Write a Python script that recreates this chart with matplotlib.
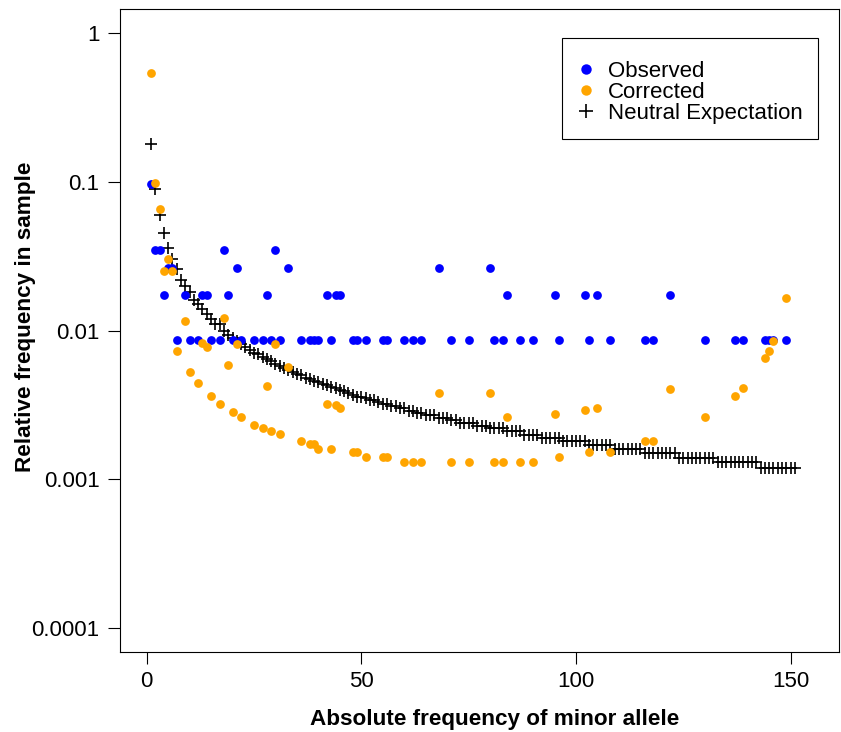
import numpy as np
import matplotlib
matplotlib.use("Agg")
import matplotlib.pyplot as plt
from matplotlib.lines import Line2D

plt.rcParams['font.family'] = ['Liberation Sans', 'DejaVu Sans']

# allele counts that were seen in the sample
sites = [1, 2, 3, 4, 5, 6, 7, 9, 10, 12, 13, 14, 15, 17, 18, 19, 20, 21, 22, 25,
         27, 28, 29, 30, 31, 33, 36, 38, 39, 40, 42, 43, 44, 45, 48, 49, 51, 55,
         56, 60, 62, 64, 68, 71, 75, 80, 81, 83, 84, 87, 90, 95, 96, 102, 103,
         105, 108, 116, 118, 122, 130, 137, 139, 144, 145, 146, 149]

observed = [0.0957, 0.0348, 0.0348, 0.0174, 0.0261, 0.0261, 0.0087, 0.0174, 0.0087,
            0.0087, 0.0174, 0.0174, 0.0087, 0.0087, 0.0348, 0.0174, 0.0087, 0.0261,
            0.0087, 0.0087, 0.0087, 0.0174, 0.0087, 0.0348, 0.0087, 0.0261, 0.0087,
            0.0087, 0.0087, 0.0087, 0.0174, 0.0087, 0.0174, 0.0174, 0.0087, 0.0087,
            0.0087, 0.0087, 0.0087, 0.0087, 0.0087, 0.0087, 0.0261, 0.0087, 0.0087,
            0.0261, 0.0087, 0.0087, 0.0174, 0.0087, 0.0087, 0.0174, 0.0087, 0.0174,
            0.0087, 0.0174, 0.0087, 0.0087, 0.0087, 0.0174, 0.0087, 0.0087, 0.0087,
            0.0087, 0.0087, 0.0087, 0.0087]

corrected = [0.54, 0.098, 0.065, 0.025, 0.030, 0.025, 0.0073, 0.0115, 0.00525,
             0.00443, 0.0082, 0.0077, 0.00362, 0.00322, 0.0122, 0.00585, 0.00283,
             0.0081, 0.00263, 0.00233, 0.00222, 0.00425, 0.00212, 0.0081, 0.00201,
             0.0057, 0.00182, 0.00172, 0.00172, 0.00161, 0.00322, 0.00161, 0.00314,
             0.00303, 0.00152, 0.00152, 0.00142, 0.00142, 0.00142, 0.00131, 0.00131,
             0.00131, 0.00383, 0.00131, 0.00131, 0.00383, 0.00131, 0.00131, 0.00262,
             0.00131, 0.00131, 0.00273, 0.00142, 0.00294, 0.00152, 0.00303, 0.00152,
             0.00182, 0.00182, 0.00404, 0.00263, 0.00365, 0.00414, 0.00649, 0.00726,
             0.0085, 0.0166]

# neutral expectation for counts 1..151
neutral = [0.18, 0.089, 0.06, 0.045, 0.036, 0.03, 0.026, 0.022, 0.02, 0.018,
           0.016, 0.015, 0.014, 0.013, 0.012, 0.011, 0.011, 0.0099, 0.0094, 0.0089,
           0.0085, 0.0081, 0.0078, 0.0074, 0.0071, 0.0069, 0.0066, 0.0064, 0.0062, 0.006,
           0.0058, 0.0056, 0.0054, 0.0053, 0.0051, 0.005, 0.0048, 0.0047, 0.0046, 0.0045,
           0.0044, 0.0043, 0.0042, 0.0041, 0.004, 0.0039, 0.0038, 0.0037, 0.0036, 0.0036,
           0.0035, 0.0034, 0.0034, 0.0033, 0.0032, 0.0032, 0.0031, 0.0031, 0.003, 0.003,
           0.0029, 0.0029, 0.0028, 0.0028, 0.0027, 0.0027, 0.0027, 0.0026, 0.0026, 0.0026,
           0.0025, 0.0025, 0.0024, 0.0024, 0.0024, 0.0024, 0.0023, 0.0023, 0.0023, 0.0022,
           0.0022, 0.0022, 0.0022, 0.0021, 0.0021, 0.0021, 0.0021, 0.002, 0.002, 0.002,
           0.002, 0.0019, 0.0019, 0.0019, 0.0019, 0.0019, 0.0018, 0.0018, 0.0018, 0.0018,
           0.0018, 0.0018, 0.0017, 0.0017, 0.0017, 0.0017, 0.0017, 0.0017, 0.0016, 0.0016,
           0.0016, 0.0016, 0.0016, 0.0016, 0.0016, 0.0015, 0.0015, 0.0015, 0.0015, 0.0015,
           0.0015, 0.0015, 0.0015, 0.0014, 0.0014, 0.0014, 0.0014, 0.0014, 0.0014, 0.0014,
           0.0014, 0.0014, 0.0013, 0.0013, 0.0013, 0.0013, 0.0013, 0.0013, 0.0013, 0.0013,
           0.0013, 0.0013, 0.0012, 0.0012, 0.0012, 0.0012, 0.0012, 0.0012, 0.0012, 0.0012,
           0.0012]
neutral_x = np.arange(1, len(neutral) + 1)

yticks = [1, 0.1, 0.01, 0.001, 0.0001]
ytick_labels = ["1", "0.1", "0.01", "0.001", "0.0001"]
xticks = [0, 50, 100, 150]

fs = 16

fig = plt.figure(figsize=(8.41, 7.32), dpi=100)
ax = fig.add_axes([0.1430, 0.1097, 0.8543, 0.8784])

ax.plot(neutral_x, neutral, ls='none', marker='+', color='black', ms=8, mew=1.2)
ax.plot(sites, observed, ls='none', marker='o', color='#0000FF', ms=6.3, mew=0)
ax.plot(sites, corrected, ls='none', marker='o', color='#FFA500', ms=6.3, mew=0)

ax.set_yscale('log')
ax.set_xlim(-6.15, 161.2)
ax.set_ylim(10 ** -4.157, 10 ** 0.161)
ax.set_yticks(yticks)
ax.set_yticklabels(ytick_labels)
ax.yaxis.set_minor_locator(matplotlib.ticker.NullLocator())
ax.set_xticks(xticks)

for s in ax.spines.values():
    s.set_linewidth(0.8)
ax.tick_params(axis='both', direction='out', length=8.7, width=0.8, labelsize=fs)
ax.tick_params(axis='y', pad=6.3)
ax.tick_params(axis='x', pad=5)

ax.set_xlabel("Absolute frequency of minor allele", fontsize=16.2, fontweight='bold')
ax.set_ylabel("Relative frequency in sample", fontsize=16.2, fontweight='bold')
ax.xaxis.set_label_coords(0.521, -0.089)
ax.yaxis.set_label_coords(-0.117, 0.521)

handles = [
    Line2D([], [], ls='none', marker='o', color='#0000FF', ms=7.5, mew=0),
    Line2D([], [], ls='none', marker='o', color='#FFA500', ms=7.5, mew=0),
    Line2D([], [], ls='none', marker='+', color='black', ms=9.5, mew=1.2),
]
# small blank title just pushes the rows down a little inside the box
leg = ax.legend(handles, ["Observed", "Corrected", "Neutral Expectation"],
                loc='upper right', bbox_to_anchor=(0.9708, 0.954), borderaxespad=0,
                fontsize=fs, labelspacing=0.0, handlelength=0.74,
                handletextpad=0.62, borderpad=0.69, fancybox=False,
                edgecolor='black', framealpha=1, title=" ", title_fontsize=6)
leg.get_frame().set_linewidth(0.8)

fig.savefig("out.png", dpi=100)
